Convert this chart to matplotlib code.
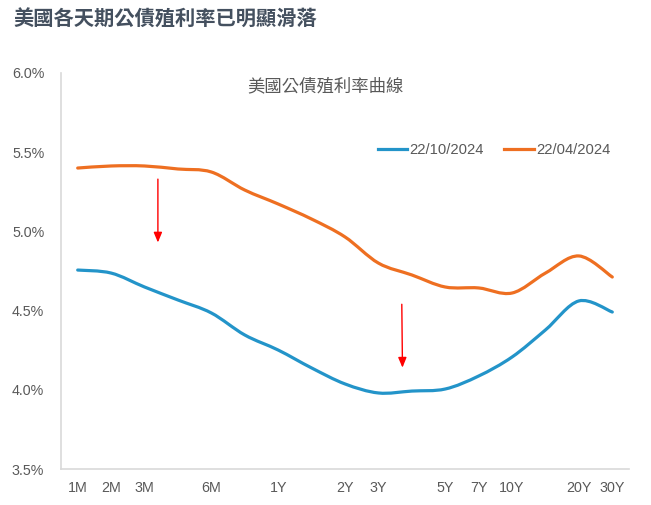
import matplotlib
matplotlib.use("Agg")
import matplotlib.pyplot as plt
from matplotlib.path import Path
from matplotlib.patches import PathPatch
import numpy as np

plt.rcParams['font.family'] = ['Liberation Sans', 'Noto Sans CJK TC', 'DejaVu Sans']

# ---- data ----
positions = list(range(17))
tick_labels = ["1M", "2M", "3M", "", "6M", "", "1Y", "", "2Y", "3Y", "", "5Y", "7Y", "10Y", "", "20Y", "30Y"]
yield_oct = [4.756, 4.737, 4.649, 4.567, 4.485, 4.346, 4.251, 4.138, 4.037, 3.980,
             3.992, 4.005, 4.087, 4.207, 4.378, 4.561, 4.491]
yield_apr = [5.400, 5.413, 5.413, 5.394, 5.375, 5.261, 5.173, 5.078, 4.965, 4.800,
             4.725, 4.649, 4.643, 4.611, 4.737, 4.845, 4.712]
series_names = ["22/10/2024", "22/04/2024"]
arrow1 = (2.4, 5.33, 2.4, 4.93)
arrow2 = (9.7, 4.54, 9.72, 4.14)

BLUE = "#2394C9"
ORANGE = "#EE6F21"
GRAY = "#595959"


def smooth_path(x, y):
    """Catmull-Rom style cubic Bezier path (like Excel smoothed lines)."""
    x = np.asarray(x, float)
    y = np.asarray(y, float)
    n = len(x)
    verts = [(x[0], y[0])]
    codes = [Path.MOVETO]
    t = 1 / 6
    for i in range(n - 1):
        p0 = (x[max(i - 1, 0)], y[max(i - 1, 0)])
        p1 = (x[i], y[i])
        p2 = (x[i + 1], y[i + 1])
        p3 = (x[min(i + 2, n - 1)], y[min(i + 2, n - 1)])
        c1 = (p1[0] + (p2[0] - p0[0]) * t, p1[1] + (p2[1] - p0[1]) * t)
        c2 = (p2[0] - (p3[0] - p1[0]) * t, p2[1] - (p3[1] - p1[1]) * t)
        verts += [c1, c2, p2]
        codes += [Path.CURVE4] * 3
    return Path(verts, codes)


fig = plt.figure(figsize=(6.51, 5.05), dpi=100)
ax = fig.add_axes([61 / 651, 1 - 469 / 505, (629 - 61) / 651, (469 - 73) / 505])

for vals, col, name in [(yield_oct, BLUE, series_names[0]), (yield_apr, ORANGE, series_names[1])]:
    patch = PathPatch(smooth_path(positions, vals), facecolor="none", edgecolor=col,
                      lw=2.3, capstyle="round", joinstyle="round")
    ax.add_patch(patch)
    ax.plot([], [], color=col, lw=2.3, label=name)

for (x0, y0, x1, y1) in (arrow1, arrow2):
    ax.annotate("", xy=(x1, y1), xytext=(x0, y0),
                arrowprops=dict(arrowstyle="-|>,head_length=0.6,head_width=0.25",
                                color="#FF0000", lw=1.0, shrinkA=0, shrinkB=0))

ax.set_xlim(-0.5, 16.5)
ax.set_ylim(3.5, 6.0)
ax.set_xticks(positions)
ax.set_xticklabels(tick_labels)
yt = [3.5, 4.0, 4.5, 5.0, 5.5, 6.0]
ax.set_yticks(yt)
ax.set_yticklabels([f"{v:.1f}%" for v in yt])
ax.tick_params(length=0, labelsize=10.3, colors=GRAY)
ax.tick_params(axis="y", pad=12)
ax.tick_params(axis="x", pad=9)
for s in ["top", "right"]:
    ax.spines[s].set_visible(False)
for s in ["left", "bottom"]:
    ax.spines[s].set_color("#D9D9D9")
    ax.spines[s].set_linewidth(1.2)

ax.text(0.465, 0.967, "美國公債殖利率曲線", transform=ax.transAxes, ha="center", va="center",
        fontsize=12.5, color=GRAY, family=['Noto Sans CJK TC', 'DejaVu Sans'])

leg = ax.legend(loc="upper left", bbox_to_anchor=(0.547, 0.838), ncol=2, frameon=False,
                fontsize=10.6, handlelength=2.0, handletextpad=0.15, columnspacing=1.4,
                borderaxespad=0)
for t in leg.get_texts():
    t.set_color(GRAY)

fig.text(13 / 651, 1 - 19 / 505, "美國各天期公債殖利率已明顯滑落", ha="left", va="center",
         fontsize=14.6, fontweight="bold", color="#44505F",
         family=['Noto Sans CJK TC', 'DejaVu Sans'])

fig.savefig("out.png", dpi=100)
